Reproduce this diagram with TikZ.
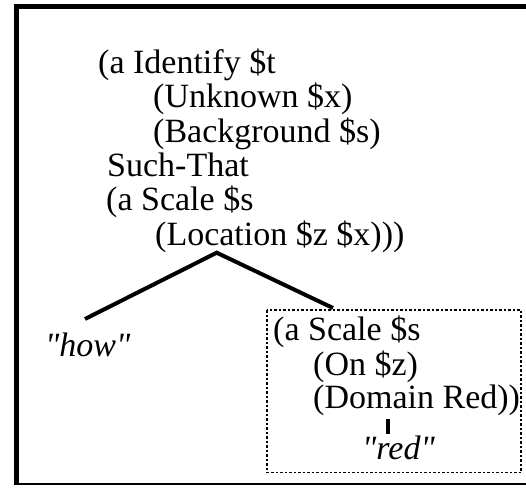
\documentclass[tikz,border=0pt]{standalone}
\usepackage{fontspec}
\setmainfont{Liberation Serif}[Ligatures=TeXOff]
\begin{document}
\begin{tikzpicture}[x=1pt,y=-1pt,
  txt/.style={anchor=base west,inner sep=0pt,font=\fontsize{34}{35}\selectfont},
  itxt/.style={txt,font=\fontsize{34}{35}\selectfont\itshape},
  branch/.style={line width=4pt},
  stem/.style={line width=4pt},
  frame/.style={line width=5pt},
  dotbox/.style={line width=1.3pt,dash pattern=on 2.5pt off 2pt}]
\useasboundingbox (0,0) rectangle (526,487);
% frame
\draw[frame] (16.5,484) -- (16.5,6.5) -- (526,6.5);
\draw[line width=2.5pt] (14,484) -- (526,484);
% top block
\node[txt] (l1) at (98,73) {(a Identify \$t};
\node[txt] (l2) at (153,107) {(Unknown \$x)};
\node[txt] (l3) at (153,142) {(Background \$s)};
\node[txt] (l4) at (107,176) {Such-That};
\node[txt] (l5) at (106,210) {(a Scale \$s};
\node[txt] (l6) at (155,245) {(Location \$z \$x)))};
% tree
\coordinate (apex) at (216.7,252.7);
\coordinate (lend) at (85,319);
\coordinate (rend) at (333,308);
\draw[branch] (lend) -- (apex) -- (rend);
\node[itxt] (how) at (45,356) {"how"};
% box
\draw[dotbox] (267,310) rectangle (521,472.5);
\node[txt] (b1) at (273,340) {(a Scale \$s};
\node[txt] (b2) at (313,375) {(On \$z)};
\node[txt] (b3) at (313,408) {(Domain Red))};
\coordinate (st) at (388,419);
\coordinate (sb) at (388,434);
\draw[stem] (st) -- (sb);
\node[itxt] (red) at (362,459) {"red"};
\end{tikzpicture}
\end{document}
